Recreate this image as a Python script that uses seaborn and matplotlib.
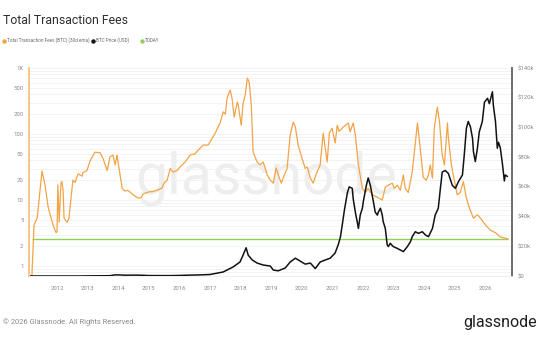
import matplotlib
matplotlib.use("Agg")
import matplotlib.pyplot as plt
from matplotlib.lines import Line2D
from matplotlib.ticker import FixedLocator, NullFormatter
import numpy as np
import pandas as pd
import seaborn as sns

# ---- data -------------------------------------------------------------
fee_years = [
    2011.18, 2011.21, 2011.25, 2011.35, 2011.38, 2011.51, 2011.61, 2011.71,
    2011.87, 2011.97, 2012.00, 2012.03, 2012.07, 2012.13, 2012.16, 2012.20,
    2012.23, 2012.33, 2012.39, 2012.52, 2012.59, 2012.69, 2012.82, 2012.85,
    2012.98, 2013.08, 2013.24, 2013.41, 2013.50, 2013.64, 2013.73, 2013.83,
    2013.90, 2013.96, 2014.03, 2014.13, 2014.22, 2014.32, 2014.49, 2014.65,
    2014.75, 2014.81, 2014.98, 2015.14, 2015.30, 2015.43, 2015.50, 2015.60,
    2015.70, 2015.79, 2015.93, 2016.02, 2016.19, 2016.35, 2016.51, 2016.58,
    2016.78, 2016.94, 2017.17, 2017.33, 2017.43, 2017.50, 2017.56, 2017.66,
    2017.72, 2017.79, 2017.89, 2017.92, 2018.02, 2018.08, 2018.15, 2018.22,
    2018.28, 2018.35, 2018.41, 2018.54, 2018.64, 2018.74, 2018.87, 2018.97,
    2019.07, 2019.16, 2019.23, 2019.33, 2019.39, 2019.52, 2019.62, 2019.72,
    2019.79, 2019.88, 2020.01, 2020.11, 2020.18, 2020.28, 2020.37, 2020.50,
    2020.60, 2020.67, 2020.70, 2020.83, 2020.90, 2020.99, 2021.09, 2021.16,
    2021.22, 2021.36, 2021.52, 2021.58, 2021.68, 2021.75, 2021.85, 2021.98,
    2022.08, 2022.17, 2022.30, 2022.47, 2022.63, 2022.73, 2022.83, 2022.96,
    2023.02, 2023.12, 2023.22, 2023.32, 2023.38, 2023.48, 2023.61, 2023.68,
    2023.78, 2023.87, 2023.97, 2024.07, 2024.14, 2024.20, 2024.27, 2024.33,
    2024.43, 2024.50, 2024.59, 2024.66, 2024.76, 2024.79, 2024.89, 2024.95,
    2025.08, 2025.18, 2025.28, 2025.38, 2025.48, 2025.61, 2025.74, 2025.84,
    2026.00, 2026.16, 2026.33, 2026.49, 2026.65, 2026.75,
]
fees_btc = [
    0.72, 1.5, 4.2, 5.3, 7.0, 27.5, 16.8, 7.8,
    4.2, 3.2, 3.3, 17.0, 4.6, 18.0, 19.0, 14.0,
    5.3, 4.6, 5.3, 20.0, 18.5, 25.0, 23.0, 26.0,
    28.0, 39.0, 53.0, 52.0, 43.0, 28.0, 45.0, 48.0,
    34.0, 48.0, 30.0, 15.0, 13.7, 14.0, 12.0, 10.7,
    10.8, 12.3, 13.2, 13.5, 14.2, 15.2, 18.0, 20.0,
    30.0, 26.6, 28.0, 31.6, 37.7, 48.0, 50.0, 55.0,
    68.0, 68.0, 103.0, 147.0, 216.0, 200.0, 350.0, 465.0,
    350.0, 180.0, 305.0, 280.0, 136.0, 290.0, 390.0, 700.0,
    615.0, 275.0, 53.0, 37.7, 34.0, 37.7, 24.0, 20.0,
    18.0, 30.6, 24.0, 18.0, 21.5, 30.0, 96.0, 152.0,
    128.0, 68.0, 43.0, 30.0, 31.6, 21.5, 18.0, 26.6,
    34.0, 75.0, 103.0, 37.7, 103.0, 122.0, 73.0, 136.0,
    110.0, 128.0, 147.0, 108.0, 147.0, 96.0, 34.0, 15.0,
    13.0, 15.0, 12.0, 11.0, 10.0, 15.7, 16.8, 18.0,
    15.0, 16.8, 14.0, 24.0, 15.0, 13.0, 26.6, 53.0,
    147.0, 61.0, 22.0, 20.0, 24.0, 34.0, 21.5, 122.0,
    255.0, 152.0, 48.0, 34.0, 147.0, 87.0, 34.0, 24.0,
    12.0, 13.0, 19.0, 10.7, 7.5, 5.3, 6.0, 5.3,
    4.2, 3.5, 3.2, 2.75, 2.65, 2.56,
]

price_years = [
    2011.12, 2012.00, 2012.75, 2013.24, 2013.73, 2013.90, 2014.06, 2014.22,
    2014.55, 2014.81, 2014.98, 2015.70, 2016.02, 2016.35, 2016.68, 2017.00,
    2017.43, 2017.75, 2017.98, 2018.08, 2018.18, 2018.25, 2018.38, 2018.54,
    2018.74, 2018.97, 2019.07, 2019.23, 2019.46, 2019.62, 2019.79, 2019.95,
    2020.11, 2020.28, 2020.44, 2020.60, 2020.77, 2020.93, 2021.09, 2021.19,
    2021.26, 2021.32, 2021.39, 2021.49, 2021.55, 2021.65, 2021.68, 2021.75,
    2021.81, 2021.85, 2021.91, 2021.98, 2022.01, 2022.11, 2022.17, 2022.24,
    2022.30, 2022.34, 2022.40, 2022.47, 2022.50, 2022.57, 2022.63, 2022.66,
    2022.73, 2022.79, 2022.83, 2022.89, 2022.99, 2023.12, 2023.22, 2023.32,
    2023.45, 2023.55, 2023.61, 2023.71, 2023.81, 2023.94, 2024.04, 2024.14,
    2024.27, 2024.36, 2024.46, 2024.53, 2024.59, 2024.69, 2024.79, 2024.92,
    2025.02, 2025.12, 2025.25, 2025.31, 2025.38, 2025.44, 2025.51, 2025.58,
    2025.61, 2025.67, 2025.74, 2025.80, 2025.90, 2025.97, 2026.07, 2026.13,
    2026.23, 2026.26, 2026.33, 2026.39, 2026.43, 2026.49, 2026.56, 2026.62,
    2026.65, 2026.72,
]
price_usd = [
    5, 6, 12, 120, 200, 800, 700, 550,
    600, 500, 300, 250, 400, 600, 750, 1000,
    2700, 6000, 9400, 14000, 19000, 14000, 10800, 8700,
    7400, 6700, 4000, 3500, 5400, 9400, 12000, 10000,
    8000, 8700, 5000, 9400, 10800, 12000, 15500, 21000,
    26000, 34000, 44000, 56000, 60000, 59000, 52000, 43000,
    36600, 32000, 41000, 45600, 50000, 61000, 66000, 61000,
    54500, 50000, 43000, 41000, 43000, 45600, 41000, 36600,
    32000, 21000, 19800, 22000, 19800, 18600, 17500, 16400,
    19800, 23000, 26500, 29800, 28700, 29800, 27600, 26500,
    32000, 41000, 45600, 59000, 70000, 71000, 69000, 61000,
    59000, 63500, 68000, 81500, 99500, 104000, 100500, 92700,
    83700, 77000, 86000, 97000, 104000, 117000, 119600, 116000,
    124000, 115000, 104000, 86000, 90000, 86000, 75000, 64000,
    68000, 67000,
]

year_ticks = list(range(2012, 2027))
fee_ticks = [1, 2, 5, 10, 20, 50, 100, 200, 500, 1000]
fee_tick_labels = ["1", "2", "5", "10", "20", "50", "100", "200", "500", "1K"]
price_ticks = [0, 20000, 40000, 60000, 80000, 100000, 120000, 140000]
price_tick_labels = ["$0", "$20k", "$40k", "$60k", "$80k", "$100k", "$120k", "$140k"]

fees = pd.DataFrame({"year": fee_years, "fees": fees_btc})
price = pd.DataFrame({"year": price_years, "price": price_usd})
today_value = fees_btc[-1]

# ---- styling ----------------------------------------------------------
sns.set_theme(style="white")
plt.rcParams["font.family"] = ["Roboto", "DejaVu Sans"]

ORANGE = "#f2a447"
BLACK = "#121212"
GREEN = "#8fd35a"
TICK = "#8a8a8a"

fig = plt.figure(figsize=(5.4, 3.4), dpi=100)
fig.patch.set_facecolor("white")
ax = fig.add_axes([29 / 540, 1 - 276 / 340, (512 - 29) / 540, (276 - 68) / 340])
ax2 = ax.twinx()

# watermark
ax.text(0.49, 0.47, "glassnode", transform=ax.transAxes, ha="center",
        va="center", fontsize=41, color="#eeeeee", zorder=0)

# left axis: fees, log scale
ax.set_yscale("log")
ax.set_ylim(0.706, 1000)
ax.set_xlim(2011.085, 2026.87)
ax.hlines(today_value, fee_years[0], fee_years[-1], color=GREEN, lw=1.0,
          zorder=2)
sns.lineplot(data=fees, x="year", y="fees", ax=ax, color=ORANGE, lw=0.9,
             zorder=3)

ax.yaxis.set_major_locator(FixedLocator(fee_ticks))
ax.set_yticklabels(fee_tick_labels)
ax.yaxis.set_minor_formatter(NullFormatter())
ax.grid(True, which="both", axis="y", color="#f1f1f1", lw=0.6)
ax.set_axisbelow(True)
ax.set_xticks(year_ticks)
ax.set_xticklabels([str(y) for y in year_ticks])
ax.tick_params(axis="both", which="both", length=0, labelsize=4.3,
               labelcolor=TICK)
ax.tick_params(axis="y", pad=4)
ax.tick_params(axis="x", pad=7)
ax.set_xlabel("")
ax.set_ylabel("")

# right axis: price, linear
sns.lineplot(data=price, x="year", y="price", ax=ax2, color=BLACK, lw=1.1)
ax2.set_ylim(0, 140000)
ax2.set_yticks(price_ticks)
ax2.set_yticklabels(price_tick_labels)
ax2.tick_params(axis="y", length=0, labelsize=4.3, labelcolor=TICK, pad=4)
ax2.set_ylabel("")
ax2.grid(False)

for a in (ax, ax2):
    for side in ("top", "left", "right", "bottom"):
        a.spines[side].set_visible(False)
    a.patch.set_visible(False)
ax2.spines["left"].set_visible(True)
ax2.spines["left"].set_color("#f6c589")
ax2.spines["left"].set_linewidth(1.4)
ax2.spines["right"].set_visible(True)
ax2.spines["right"].set_color("#6e6e6e")
ax2.spines["right"].set_linewidth(1.4)
ax2.spines["bottom"].set_visible(True)
ax2.spines["bottom"].set_color("#ececec")
ax2.spines["bottom"].set_linewidth(0.6)

# title and legend row
fig.text(3 / 540, 1 - 20 / 340, "Total Transaction Fees", ha="left",
         va="center", fontsize=8.8, color="#2e2e2e")
legend_y = 1 - 40.5 / 340
fig.add_artist(Line2D([4 / 540], [legend_y], marker="o", ms=2.2,
                      color=ORANGE, transform=fig.transFigure))
fig.text(7 / 540, legend_y, "Total Transaction Fees (BTC) (30d ema)",
         ha="left", va="center", fontsize=3.3, color="#6a6a6a")
fig.add_artist(Line2D([93.5 / 540], [legend_y], marker="o", ms=2.2,
                      color=BLACK, transform=fig.transFigure))
fig.text(96.5 / 540, legend_y, "BTC Price (USD)", ha="left", va="center",
         fontsize=3.3, color="#6a6a6a")
fig.add_artist(Line2D([141.5 / 540], [legend_y], marker="o", ms=2.2,
                      color=GREEN, transform=fig.transFigure))
fig.text(144.5 / 540, legend_y, "TODAY", ha="left", va="center",
         fontsize=3.3, color="#6a6a6a")

# footer
fig.text(3 / 540, 1 - 322 / 340, "\u00a9 2026 Glassnode. All Rights Reserved.",
         ha="left", va="center", fontsize=5.4, color="#8a8a8a")
fig.text(537 / 540, 1 - 323 / 340, "glassnode", ha="right", va="center",
         fontsize=11.5, color="#1e1e1e")

fig.savefig("out.png", dpi=100, facecolor="white")
